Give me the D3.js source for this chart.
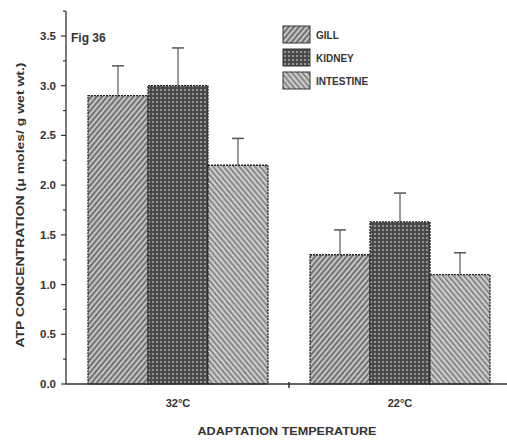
<!DOCTYPE html>
<html>
<head>
<meta charset="utf-8">
<script src="https://cdn.jsdelivr.net/npm/d3@7"></script>
<style>
  body { margin: 0; background: #fff; }
  svg text { font-family: "Liberation Sans", Arial, sans-serif; fill: #333; }
</style>
</head>
<body>
<div id="chart"></div>
<script>
// data
const groups = ['32°C', '22°C'];
const tissues = ['GILL', 'KIDNEY', 'INTESTINE'];
const means = [[2.9, 3.0, 2.2], [1.3, 1.63, 1.1]];
const errors = [[0.3, 0.38, 0.27], [0.25, 0.29, 0.22]];
const yTicks = [0, 0.5, 1.0, 1.5, 2.0, 2.5, 3.0, 3.5];

const W = 507, H = 440;
const svg = d3.select('#chart').append('svg')
    .attr('width', W).attr('height', H);

const defs = svg.append('defs');
// hatch patterns
const pGill = defs.append('pattern').attr('id', 'pGill')
    .attr('width', 4).attr('height', 4)
    .attr('patternUnits', 'userSpaceOnUse')
    .attr('patternTransform', 'rotate(40)');
pGill.append('rect').attr('width', 4).attr('height', 4).attr('fill', '#c4c4c4');
pGill.append('rect').attr('width', 1.8).attr('height', 4).attr('fill', '#6a6a6a');

const pInt = defs.append('pattern').attr('id', 'pInt')
    .attr('width', 4).attr('height', 4)
    .attr('patternUnits', 'userSpaceOnUse')
    .attr('patternTransform', 'rotate(-40)');
pInt.append('rect').attr('width', 4).attr('height', 4).attr('fill', '#cdcdcd');
pInt.append('rect').attr('width', 1.6).attr('height', 4).attr('fill', '#7a7a7a');

const pKid = defs.append('pattern').attr('id', 'pKid')
    .attr('width', 4).attr('height', 4)
    .attr('patternUnits', 'userSpaceOnUse');
pKid.append('rect').attr('width', 4).attr('height', 4).attr('fill', '#4a4a4a');
pKid.append('rect').attr('x', 1).attr('y', 1).attr('width', 2).attr('height', 2).attr('fill', '#959595');

const fills = { GILL: 'url(#pGill)', KIDNEY: 'url(#pKid)', INTESTINE: 'url(#pInt)' };

const x0 = d3.scaleBand().domain(groups).range([67, 511]);
const x1 = d3.scaleBand().domain(tissues).range([21, 201]);
const y = d3.scaleLinear().domain([0, 3.5]).range([384, 36]);

// bars
groups.forEach((g, gi) => {
    const gg = svg.append('g').attr('transform', `translate(${x0(g)},0)`);
    tissues.forEach((t, ti) => {
        const v = means[gi][ti], e = errors[gi][ti];
        const cx = x1(t) + x1.bandwidth() / 2;
        gg.append('line')
            .attr('x1', cx).attr('x2', cx)
            .attr('y1', y(v)).attr('y2', y(v + e))
            .attr('stroke', '#555').attr('stroke-width', 1.2);
        gg.append('line')
            .attr('x1', cx - 6).attr('x2', cx + 6)
            .attr('y1', y(v + e)).attr('y2', y(v + e))
            .attr('stroke', '#555').attr('stroke-width', 1.5);
        gg.append('rect')
            .attr('x', x1(t)).attr('y', y(v))
            .attr('width', x1.bandwidth()).attr('height', y(0) - y(v))
            .attr('fill', fills[t])
            .attr('stroke', '#222').attr('stroke-width', 1.3)
            .attr('stroke-dasharray', '2,1');
    });
});

// y axis
const yAxis = svg.append('g').attr('transform', 'translate(66,0)');
yAxis.append('line').attr('x1', 0).attr('x2', 0)
    .attr('y1', y(0)).attr('y2', y(3.75))
    .attr('stroke', '#333').attr('stroke-width', 1.3);
d3.range(0, 3.76, 0.25).forEach(v => {
    yAxis.append('line').attr('x1', v % 0.5 === 0 ? -5 : -3).attr('x2', 0)
        .attr('y1', y(v)).attr('y2', y(v))
        .attr('stroke', '#333').attr('stroke-width', 1.2);
});
yTicks.forEach(v => {
    yAxis.append('text')
        .attr('x', -10).attr('y', y(v) + 4)
        .attr('text-anchor', 'end')
        .attr('font-size', 11.5)
        .attr('font-weight', 'bold')
        .attr('fill', '#444')
        .text(v.toFixed(1));
});

// x axis
svg.append('line')
    .attr('x1', 66).attr('x2', W)
    .attr('y1', y(0)).attr('y2', y(0))
    .attr('stroke', '#333').attr('stroke-width', 1.6);
svg.append('line')
    .attr('x1', x0('22°C')).attr('x2', x0('22°C'))
    .attr('y1', y(0) - 2).attr('y2', y(0) + 4)
    .attr('stroke', '#333').attr('stroke-width', 1.5);
groups.forEach(g => {
    svg.append('text')
        .attr('x', x0(g) + x0.bandwidth() / 2).attr('y', 407)
        .attr('text-anchor', 'middle')
        .attr('font-size', 11)
        .attr('font-weight', 'bold')
        .text(g);
});

svg.append('text')
    .attr('x', 287).attr('y', 435)
    .attr('text-anchor', 'middle')
    .attr('font-size', 11)
    .attr('font-weight', 'bold')
    .attr('textLength', 179)
    .attr('lengthAdjust', 'spacingAndGlyphs')
    .text('ADAPTATION TEMPERATURE');

svg.append('text')
    .attr('transform', 'translate(24,205) rotate(-90)')
    .attr('text-anchor', 'middle')
    .attr('font-size', 11)
    .attr('font-weight', 'bold')
    .attr('textLength', 285)
    .attr('lengthAdjust', 'spacingAndGlyphs')
    .text('ATP CONCENTRATION (\u03bc moles/ g wet wt.)');

svg.append('text')
    .attr('x', 71).attr('y', 42)
    .attr('font-size', 12)
    .attr('font-weight', 'bold')
    .text('Fig 36');

// legend
const leg = svg.append('g').attr('transform', 'translate(283,26)');
tissues.forEach((t, i) => {
    leg.append('rect')
        .attr('x', 0).attr('y', i * 23)
        .attr('width', 27).attr('height', 17)
        .attr('fill', fills[t])
        .attr('stroke', '#333').attr('stroke-width', 1);
    leg.append('text')
        .attr('x', 33).attr('y', i * 23 + 13)
        .attr('font-size', 10)
        .attr('font-weight', 'bold')
        .text(t);
});
</script>
</body>
</html>
